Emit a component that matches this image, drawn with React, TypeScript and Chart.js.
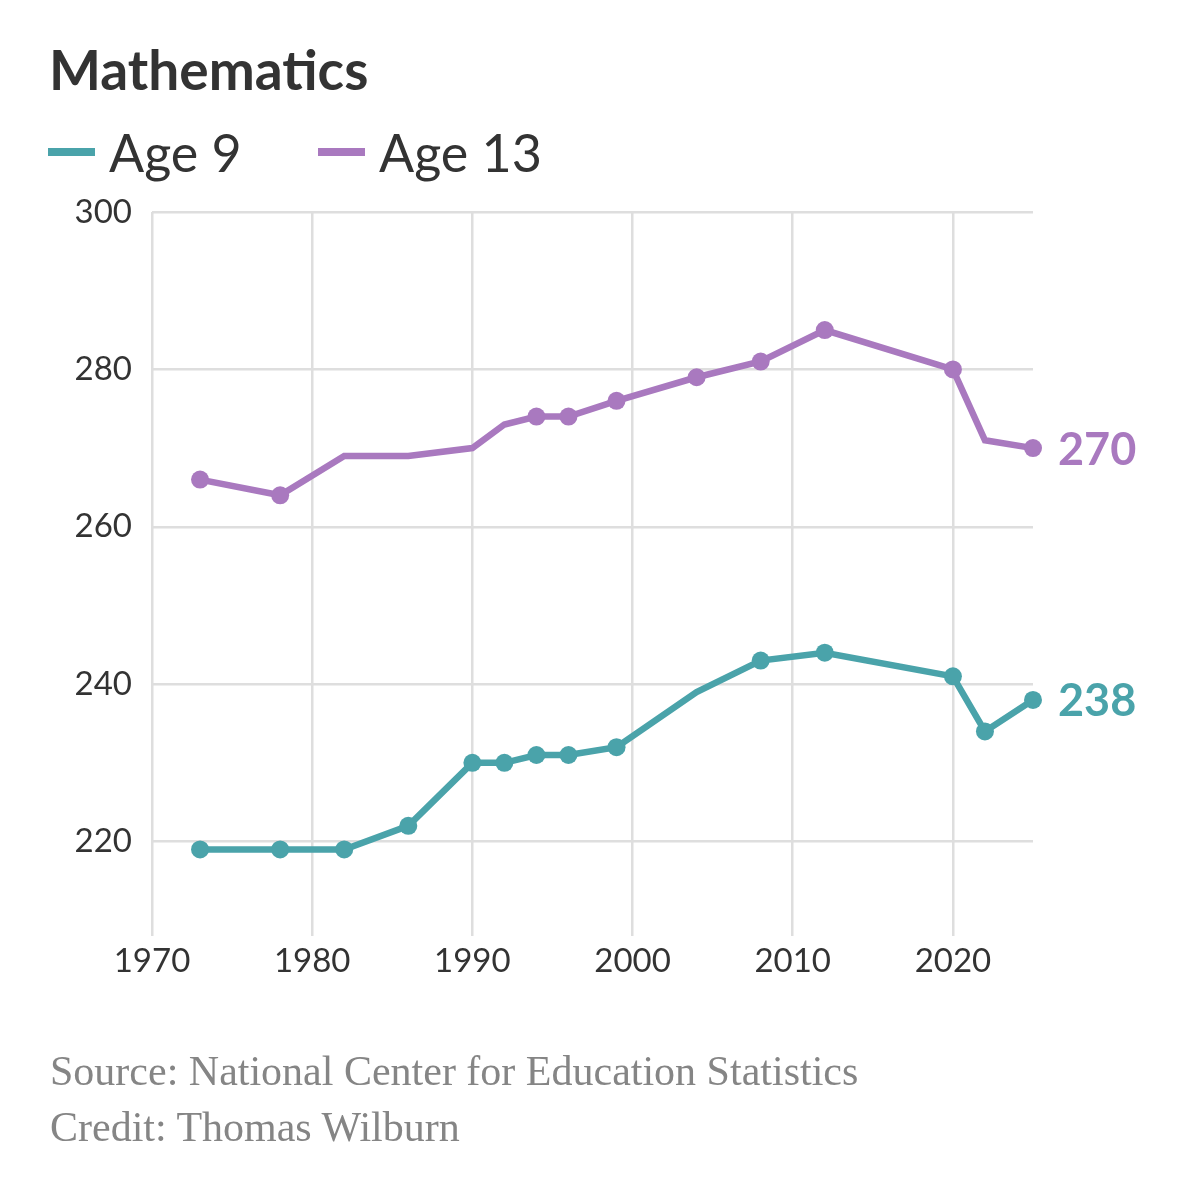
import React, { useEffect, useRef } from "react";
import { Chart, registerables } from "chart.js";

Chart.register(...registerables);

const years = [1973, 1978, 1982, 1986, 1990, 1992, 1994, 1996, 1999, 2004, 2008, 2012, 2020, 2022, 2025];
const age9 = [219, 219, 219, 222, 230, 230, 231, 231, 232, 239, 243, 244, 241, 234, 238];
const age13 = [266, 264, 269, 269, 270, 273, 274, 274, 276, 279, 281, 285, 280, 271, 270];
const age9Dots = [1, 1, 1, 1, 1, 1, 1, 1, 1, 0, 1, 1, 1, 1, 1];
const age13Dots = [1, 1, 0, 0, 0, 0, 1, 1, 1, 1, 1, 1, 1, 0, 1];
const seriesNames = ["Age 9", "Age 13"];
const xTicks = [1970, 1980, 1990, 2000, 2010, 2020];
const yTicks = [220, 240, 260, 280, 300];

const TEAL = "#4aa3aa";
const PURPLE = "#a979bf";
const SANS = "Lato, 'Noto Sans', sans-serif";

const endLabels = {
  id: "endLabels",
  afterDatasetsDraw(chart: any) {
    const ctx = chart.ctx;
    chart.data.datasets.forEach((ds: any, i: number) => {
      const meta = chart.getDatasetMeta(i);
      const pt = meta.data[meta.data.length - 1];
      const v = ds.data[ds.data.length - 1].y;
      ctx.save();
      ctx.font = `700 45px ${SANS}`;
      ctx.fillStyle = ds.borderColor;
      ctx.textBaseline = "middle";
      ctx.textAlign = "left";
      ctx.fillText(String(v), pt.x + 25, pt.y + 2);
      ctx.restore();
    });
  },
};

export default function App() {
  const ref = useRef<HTMLCanvasElement>(null);
  useEffect(() => {
    if (!ref.current) return;
    const mk = (vals: number[]) => vals.map((v, i) => ({ x: years[i], y: v }));
    const chart = new Chart(ref.current, {
      type: "line",
      data: {
        datasets: [
          {
            label: seriesNames[0],
            data: mk(age9),
            borderColor: TEAL,
            backgroundColor: TEAL,
            pointBackgroundColor: TEAL,
            pointBorderWidth: 0,
            pointRadius: age9Dots.map((d) => (d ? 9 : 0)),
            borderWidth: 6.5,
            tension: 0,
            clip: false as any,
          },
          {
            label: seriesNames[1],
            data: mk(age13),
            borderColor: PURPLE,
            backgroundColor: PURPLE,
            pointBackgroundColor: PURPLE,
            pointBorderWidth: 0,
            pointRadius: age13Dots.map((d) => (d ? 9 : 0)),
            borderWidth: 6.5,
            tension: 0,
            clip: false as any,
          },
        ],
      },
      options: {
        animation: false,
        responsive: false,
        devicePixelRatio: 1,
        layout: { padding: { left: 0, right: 167, top: 212, bottom: 204 } },
        plugins: { legend: { display: false }, tooltip: { enabled: false } },
        scales: {
          x: {
            type: "linear",
            min: 1970,
            max: 2025,
            afterFit: (s: any) => {
              s.height = 60;
            },
            afterBuildTicks: (s: any) => {
              s.ticks = xTicks.map((v) => ({ value: v }));
            },
            ticks: {
              callback: (v: any) => String(v),
              color: "#333333",
              font: { family: SANS, size: 33 },
              padding: 6,
              maxRotation: 0,
            },
            grid: { color: "#dedede", lineWidth: 2.5, drawTicks: false },
            border: { display: false },
          },
          y: {
            min: 208,
            max: 300,
            afterFit: (s: any) => {
              s.width = 152;
            },
            afterBuildTicks: (s: any) => {
              s.ticks = yTicks.map((v) => ({ value: v }));
            },
            ticks: {
              callback: (v: any) => String(v),
              color: "#333333",
              font: { family: SANS, size: 33 },
              padding: 20,
            },
            grid: { color: "#dedede", lineWidth: 2.5, drawTicks: false },
            border: { display: false },
          },
        },
      },
      plugins: [endLabels],
    });
    return () => chart.destroy();
  }, []);

  const legendItem = (name: string, color: string, left: number) => (
    <div style={{ position: "absolute", left, top: 122, display: "flex", alignItems: "center", height: 60 }}>
      <div style={{ width: 47, height: 8, background: color, marginRight: 14 }} />
      <span style={{ fontFamily: SANS, fontSize: 52, color: "#333333", fontWeight: 400, lineHeight: "60px" }}>{name}</span>
    </div>
  );

  return (
    <div style={{ position: "absolute", left: 0, top: 0, width: 1200, height: 1200, background: "#ffffff", overflow: "hidden" }}>
      <canvas ref={ref} width={1200} height={1200} style={{ position: "absolute", left: 0, top: 0, width: 1200, height: 1200 }} />
      <div style={{ position: "absolute", left: 49, top: 37, fontFamily: SANS, fontWeight: 700, fontSize: 55, color: "#333333", lineHeight: "64px" }}>
        Mathematics
      </div>
      {legendItem(seriesNames[0], TEAL, 48)}
      {legendItem(seriesNames[1], PURPLE, 318)}
      <div style={{ position: "absolute", left: 50, top: 1046, fontFamily: "'Liberation Serif', serif", fontSize: 42, color: "#858585", lineHeight: "50px", whiteSpace: "nowrap" }}>
        Source: National Center for Education Statistics
      </div>
      <div style={{ position: "absolute", left: 50, top: 1102, fontFamily: "'Liberation Serif', serif", fontSize: 42, color: "#858585", lineHeight: "50px", whiteSpace: "nowrap" }}>
        Credit: Thomas Wilburn
      </div>
    </div>
  );
}
